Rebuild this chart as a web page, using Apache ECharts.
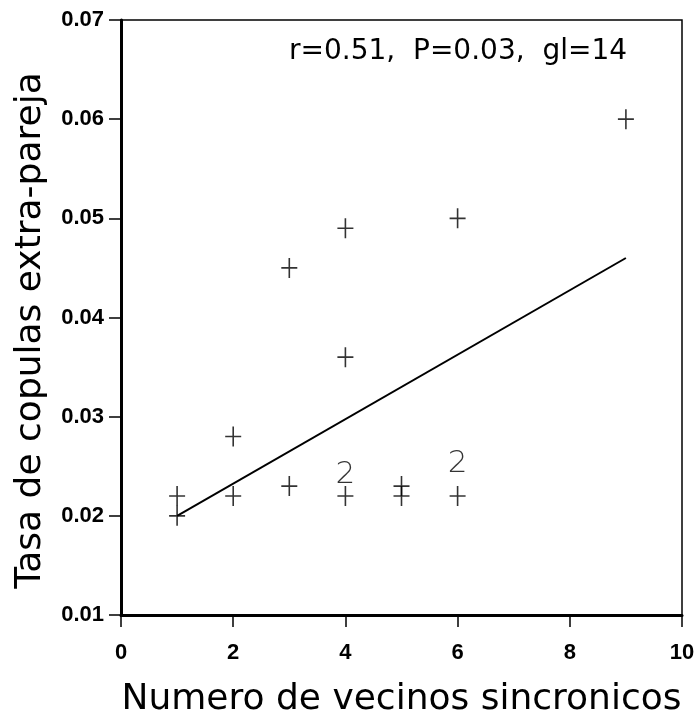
<!DOCTYPE html>
<html>
<head>
<meta charset="utf-8">
<script src="https://cdn.jsdelivr.net/npm/echarts@6/dist/echarts.min.js"></script>
<style>
  html, body { margin: 0; padding: 0; background: #fff; }
  #chart { width: 698px; height: 723px; }
</style>
</head>
<body>
<div id="chart"></div>
<script>
// puntos individuales (x = vecinos sincronicos, y = tasa de copulas extra-pareja)
var puntos = [
    [1, 0.022], [1, 0.020],
    [2, 0.028], [2, 0.022],
    [3, 0.045], [3, 0.023],
    [4, 0.049], [4, 0.036], [4, 0.022],
    [5, 0.023], [5, 0.022],
    [6, 0.050], [6, 0.022],
    [9, 0.060]
];
// observaciones dobles, marcadas con "2"
var dobles = [[4, 0.0241], [6, 0.0252]];
// recta de regresion
var recta = [[1, 0.020], [9, 0.046]];
var anotacion = 'r=0.51,  P=0.03,  gl=14';

var cruz = 'path://M0,9.2H16V10.8H0Z M7.2,0H8.8V20H7.2Z';

var myChart = echarts.init(document.getElementById('chart'));

myChart.setOption({
    animation: false,
    title: {
        text: anotacion,
        left: 289,
        top: 38,
        padding: 0,
        textStyle: {
            fontFamily: 'DejaVu Sans',
            fontSize: 28,
            fontWeight: 'normal',
            color: '#000'
        }
    },
    grid: {
        left: 121,
        right: 16,
        top: 20,
        bottom: 105,
        show: true,
        borderColor: '#000',
        borderWidth: 1.5,
        backgroundColor: 'transparent'
    },
    xAxis: {
        type: 'value',
        min: 0,
        max: 10,
        interval: 2,
        name: 'Numero de vecinos sincronicos',
        nameLocation: 'middle',
        nameGap: 67,
        nameTextStyle: {
            fontFamily: 'DejaVu Sans',
            fontSize: 36,
            color: '#000'
        },
        axisLine: { lineStyle: { color: '#000', width: 3 } },
        axisTick: { length: 12, lineStyle: { color: '#000', width: 1.5 } },
        axisLabel: {
            margin: 27,
            fontFamily: 'Liberation Sans',
            fontWeight: 'bold',
            fontSize: 22,
            color: '#000'
        },
        splitLine: { show: false }
    },
    yAxis: {
        type: 'value',
        min: 0.01,
        max: 0.07,
        interval: 0.01,
        name: 'Tasa de copulas extra-pareja',
        nameLocation: 'middle',
        nameGap: 72,
        nameTextStyle: {
            fontFamily: 'DejaVu Sans',
            fontSize: 36,
            color: '#000',
            padding: [0, 26, 0, 0]
        },
        axisLine: { lineStyle: { color: '#000', width: 3 } },
        axisTick: { length: 12, lineStyle: { color: '#000', width: 1.5 } },
        axisLabel: {
            margin: 17,
            fontFamily: 'Liberation Sans',
            fontWeight: 'bold',
            fontSize: 22,
            color: '#000',
            formatter: function (v) { return v.toFixed(2); }
        },
        splitLine: { show: false }
    },
    series: [
        {
            type: 'line',
            data: recta,
            symbol: 'none',
            lineStyle: { color: '#000', width: 2 },
            z: 2
        },
        {
            type: 'scatter',
            data: puntos,
            symbol: cruz,
            symbolSize: [16, 20],
            itemStyle: { color: '#000' },
            z: 3
        },
        {
            type: 'scatter',
            data: dobles,
            symbolSize: 1,
            itemStyle: { color: 'transparent' },
            label: {
                show: true,
                position: 'inside',
                formatter: '2',
                fontFamily: 'DejaVu Sans',
                fontWeight: 300,
                fontSize: 31,
                color: '#000'
            },
            z: 4
        }
    ]
});
</script>
</body>
</html>
